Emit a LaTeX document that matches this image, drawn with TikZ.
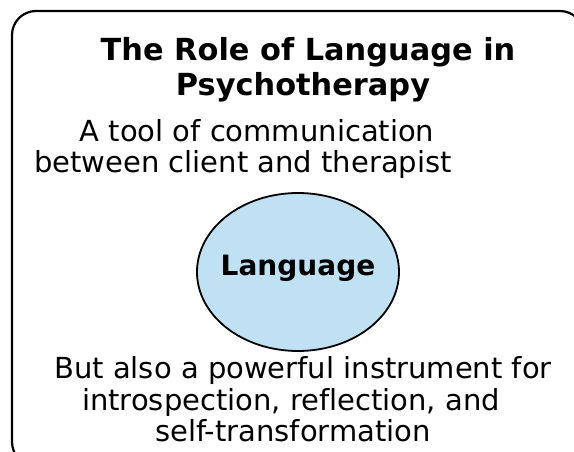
\documentclass[tikz,border=0pt]{standalone}
\usepackage{fontspec}
\setmainfont{DejaVu Sans}[Ligatures=NoCommon]
\definecolor{langblue}{HTML}{BFE1F3}
\begin{document}
\begin{tikzpicture}[x=1pt, y=1pt,
  heading/.style={font=\bfseries\fontsize{30.4}{36}\selectfont, anchor=base},
  body/.style={font=\fontsize{29}{35}\selectfont, anchor=base},
  hubline/.style={draw, line width=1.8pt, fill=langblue},
  hublabel/.style={font=\bfseries\fontsize{28}{33}\selectfont, anchor=base}]
\useasboundingbox (0,0) rectangle (574,-452);
% outer frame, runs off the right and bottom edges
\draw[line width=2.2pt, rounded corners=24pt] (12,-11) rectangle (584,-466);
% heading
\node[heading] (head1) at (308,-61) {The Role of Language in};
\node[heading] (head2) at (303,-96) {Psychotherapy};
% upper text
\node[body] (top1) at (257,-142) {A tool of communication};
\node[body] (top2) at (243,-173) {between client and therapist};
% central ellipse
\path[hubline] (298,-272) ellipse [x radius=101, y radius=79];
\node[hublabel] (lang) at (298,-276) {Language};
% lower text
\node[body] (low1) at (303,-378) {But also a powerful instrument for};
\node[body] (low2) at (291,-410) {introspection, reflection, and};
\node[body] (low3) at (293,-441) {self-transformation};
\end{tikzpicture}
\end{document}
